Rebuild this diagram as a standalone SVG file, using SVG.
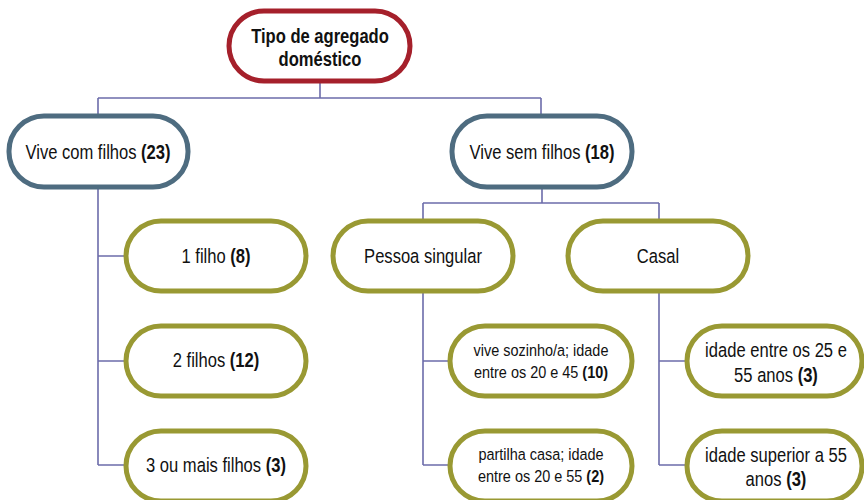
<svg xmlns="http://www.w3.org/2000/svg" width="864" height="500" viewBox="0 0 864 500">
<style>
.n{fill:#fff;stroke-width:5}
.r{stroke:#A5202B}
.b{stroke:#4E6C80}
.o{stroke:#999933}
text{font-family:"Liberation Sans",Arial,sans-serif;fill:#111;text-anchor:middle}
.t{font-size:19.5px}
.s{font-size:17px}
.bold{font-weight:bold}
.c{fill:none;stroke:#6C6CAA;stroke-width:1.6}
</style>
<rect width="864" height="500" fill="#fff"/>
<g id="connectors" class="c">
<path d="M320,82V98M98,98H541M98,98V116M541,98V116"/>
<path d="M98,188V465M98,256H126M98,361H126M98,465H126"/>
<path d="M542,188V203M423,203H659M423,203V220M659,203V220"/>
<path d="M423,292V465M423,361H450M423,465H450"/>
<path d="M659,292V465M659,361H687M659,465H687"/>
</g>
<g id="root">
<rect class="n r" x="229" y="11" width="181" height="70" rx="35"/>
<text class="t bold" transform="translate(320,43) scale(0.85,1)">Tipo de agregado</text>
<text class="t bold" transform="translate(320,66) scale(0.85,1)">doméstico</text>
</g>
<g id="com-filhos">
<rect class="n b" x="9" y="116" width="179" height="71" rx="35"/>
<text class="t" transform="translate(98,159) scale(0.85,1)">Vive com filhos <tspan class="bold">(23)</tspan></text>
</g>
<g id="sem-filhos">
<rect class="n b" x="452" y="116" width="180" height="71" rx="35"/>
<text class="t" transform="translate(542,159) scale(0.85,1)">Vive sem filhos <tspan class="bold">(18)</tspan></text>
</g>
<g id="filho1">
<rect class="n o" x="126" y="221" width="180" height="70" rx="35"/>
<text class="t" transform="translate(216,263) scale(0.85,1)">1 filho <tspan class="bold">(8)</tspan></text>
</g>
<g id="filhos2">
<rect class="n o" x="126" y="326" width="180" height="70" rx="35"/>
<text class="t" transform="translate(216,367) scale(0.85,1)">2 filhos <tspan class="bold">(12)</tspan></text>
</g>
<g id="filhos3">
<rect class="n o" x="126" y="431" width="180" height="70" rx="35"/>
<text class="t" transform="translate(216,472) scale(0.85,1)">3 ou mais filhos <tspan class="bold">(3)</tspan></text>
</g>
<g id="pessoa">
<rect class="n o" x="333" y="221" width="180" height="70" rx="35"/>
<text class="t" transform="translate(423,263) scale(0.85,1)">Pessoa singular</text>
</g>
<g id="casal">
<rect class="n o" x="568" y="221" width="180" height="70" rx="35"/>
<text class="t" transform="translate(658,263) scale(0.85,1)">Casal</text>
</g>
<g id="sozinho">
<rect class="n o" x="450" y="326" width="182" height="70" rx="35"/>
<text class="s" transform="translate(541,356) scale(0.85,1)">vive sozinho/a; idade</text>
<text class="s" transform="translate(541,378) scale(0.85,1)">entre os 20 e 45 <tspan class="bold">(10)</tspan></text>
</g>
<g id="partilha">
<rect class="n o" x="450" y="431" width="182" height="70" rx="35"/>
<text class="s" transform="translate(541,460) scale(0.85,1)">partilha casa; idade</text>
<text class="s" transform="translate(541,482) scale(0.85,1)">entre os 20 e 55 <tspan class="bold">(2)</tspan></text>
</g>
<g id="casal-25-55">
<rect class="n o" x="687" y="326" width="175" height="70" rx="35"/>
<text class="t" transform="translate(776,357) scale(0.85,1)">idade entre os 25 e</text>
<text class="t" transform="translate(776,382) scale(0.85,1)">55 anos <tspan class="bold">(3)</tspan></text>
</g>
<g id="casal-55">
<rect class="n o" x="687" y="431" width="175" height="70" rx="35"/>
<text class="t" transform="translate(776,462) scale(0.85,1)">idade superior a 55</text>
<text class="t" transform="translate(776,486) scale(0.85,1)">anos <tspan class="bold">(3)</tspan></text>
</g>
</svg>
